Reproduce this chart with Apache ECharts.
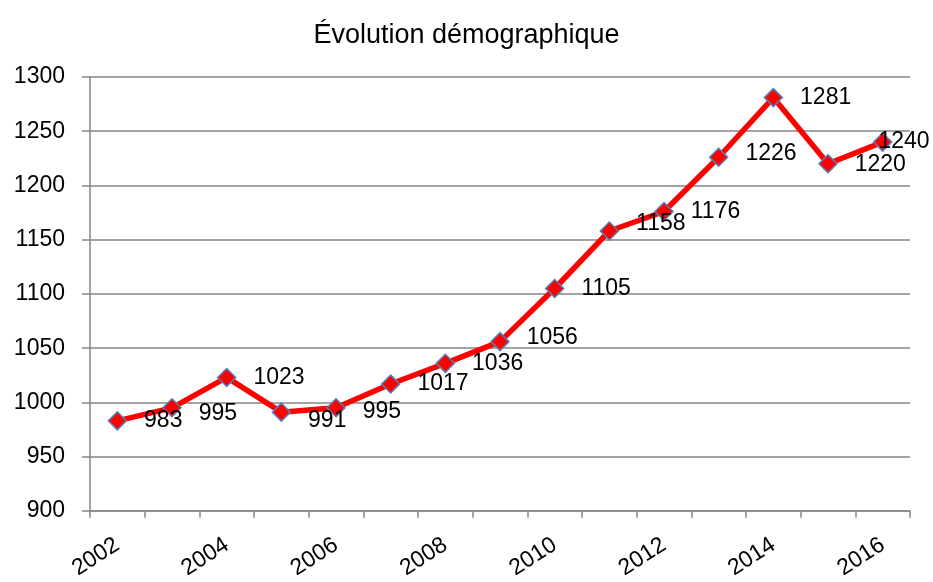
<!DOCTYPE html>
<html>
<head>
<meta charset="utf-8">
<script src="https://cdn.jsdelivr.net/npm/echarts@6/dist/echarts.min.js"></script>
<style>html,body{margin:0;padding:0;background:#fff}#c{width:933px;height:582px}</style>
</head>
<body>
<div id="c"></div>
<script>
var titleText = 'Évolution démographique';
var years = ['2002','2003','2004','2005','2006','2007','2008','2009','2010','2011','2012','2013','2014','2015','2016'];
var population = [983, 995, 1023, 991, 995, 1017, 1036, 1056, 1105, 1158, 1176, 1226, 1281, 1220, 1240];
var yTicks = [900, 950, 1000, 1050, 1100, 1150, 1200, 1250, 1300];

// label nudges (style only): [dx, dy] per index
var labelNudge = {1:[0,6], 3:[0,9], 4:[0,4], 7:[0,-4], 9:[0,-7], 11:[0,-4], 13:[0,1], 14:[-31,0]};

var FONT = 'Liberation Sans';
var chart = echarts.init(document.getElementById('c'), null, {renderer:'canvas'});
var seriesData = population.map(function(v, i){
  var item = {value: v};
  if (labelNudge[i]) item.label = {offset: labelNudge[i]};
  return item;
});
chart.setOption({
  animation: false,
  backgroundColor: '#ffffff',
  title: {
    text: titleText, left: 'center', top: 17,
    textStyle: {fontFamily: FONT, fontSize: 27, fontWeight: 'normal', color: '#000'}
  },
  grid: {left: 90, right: 23, top: 77, bottom: 67, containLabel: false},
  xAxis: {
    type: 'category', data: years, boundaryGap: true,
    axisLine: {lineStyle: {color: '#868686', width: 1.5}},
    axisTick: {show: true, interval: 0, length: 7, lineStyle: {color: '#868686', width: 1.5}},
    axisLabel: {interval: 1, rotate: 33, margin: 32, fontFamily: FONT, fontSize: 23, color: '#000'},
    splitLine: {show: false}
  },
  yAxis: {
    type: 'value', min: yTicks[0], max: yTicks[yTicks.length-1], interval: 50,
    axisLine: {show: true, lineStyle: {color: '#868686', width: 1.5}},
    axisTick: {show: true, inside: false, length: 8, lineStyle: {color: '#868686', width: 1.5}},
    axisLabel: {margin: 25, fontFamily: FONT, fontSize: 23, color: '#000', formatter: function(v){ return String(v); }},
    splitLine: {show: true, lineStyle: {color: '#868686', width: 1.5}}
  },
  series: [{
    type: 'line', data: seriesData,
    lineStyle: {color: '#ff0000', width: 5.5},
    symbol: 'diamond', symbolSize: 18,
    itemStyle: {color: '#ff0000', borderColor: '#4f81bd', borderWidth: 1.5},
    label: {show: true, position: 'right', distance: 17, fontFamily: FONT, fontSize: 23, color: '#000'},
    z: 3
  }]
});
</script>
</body>
</html>
